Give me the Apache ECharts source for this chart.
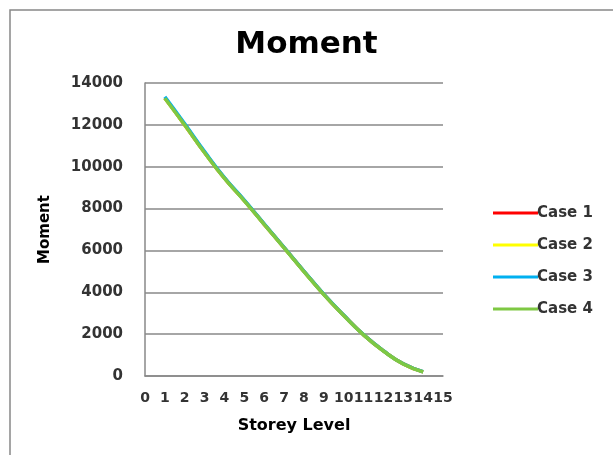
<!DOCTYPE html>
<html>
<head>
<meta charset="utf-8">
<script src="https://cdn.jsdelivr.net/npm/echarts@6/dist/echarts.min.js"></script>
<style>html,body{margin:0;padding:0;background:#fff;}#c{width:613px;height:455px;}</style>
</head>
<body>
<div id="c"></div>
<script>
const storeys = [1,2,3,4,5,6,7,8,9,10,11,12,13,14];
const case1 = [13280,12000,10680,9450,8380,7250,6130,5000,3900,2900,1970,1200,580,200];
const case2 = [13280,12000,10680,9450,8380,7250,6130,5000,3900,2900,1970,1200,580,200];
const case3 = [13340,12050,10720,9480,8400,7270,6140,5010,3910,2910,1975,1205,585,205];
const case4 = [13270,11990,10670,9440,8370,7240,6120,4990,3890,2890,1965,1195,575,195];
const seriesNames = ['Case 1','Case 2','Case 3','Case 4'];
const seriesColors = ['#ff0000','#ffff00','#00b0f0','#7ec843'];
const seriesData = [case1, case2, case3, case4];

const chart = echarts.init(document.getElementById('c'));
const font = 'DejaVu Sans, sans-serif';
chart.setOption({
  animation: false,
  backgroundColor: '#fff',
  graphic: [{
    type: 'rect', shape: {x: 10, y: 10, width: 700, height: 600},
    style: {fill: 'none', stroke: '#888', lineWidth: 1.5}, silent: true, z: -1
  }],
  title: {
    text: 'Moment', left: 'center', top: 24,
    textStyle: {fontFamily: font, fontWeight: 'bold', fontSize: 31, color: '#000'}
  },
  legend: {
    orient: 'vertical', left: 488, top: 200, itemWidth: 45, itemHeight: 3, itemGap: 16,
    icon: 'rect',
    textStyle: {fontFamily: font, fontWeight: 'bold', fontSize: 15, lineHeight: 16, color: '#333', padding: [0,0,0,-6]},
    data: seriesNames
  },
  grid: {left: 145, right: 170, top: 83, bottom: 79},
  xAxis: {
    type: 'value', min: 0, max: 15, interval: 1,
    name: 'Storey Level', nameLocation: 'middle', nameGap: 42,
    nameTextStyle: {fontFamily: font, fontWeight: 'bold', fontSize: 16, color: '#000'},
    axisLine: {show: true, lineStyle: {color: '#888', width: 1.5}},
    axisTick: {show: false},
    axisLabel: {fontFamily: font, fontWeight: 'bold', fontSize: 14, color: '#333', margin: 15,
      showMaxLabel: true, showMinLabel: true, hideOverlap: false},
    splitLine: {show: false}
  },
  yAxis: {
    type: 'value', min: 0, max: 14000, interval: 2000,
    name: 'Moment', nameLocation: 'middle', nameGap: 92, nameRotate: 90,
    nameTextStyle: {fontFamily: font, fontWeight: 'bold', fontSize: 15, color: '#000'},
    axisLine: {show: true, lineStyle: {color: '#888', width: 1.5}},
    axisTick: {show: false},
    axisLabel: {fontFamily: font, fontWeight: 'bold', fontSize: 15, color: '#333', margin: 22,
      formatter: v => String(v)},
    splitLine: {show: true, lineStyle: {color: '#888', width: 1.5}}
  },
  series: seriesNames.map((n, i) => ({
    name: n, type: 'line', smooth: true, showSymbol: false,
    color: seriesColors[i],
    lineStyle: {width: 3.5, color: seriesColors[i]},
    data: storeys.map((s, j) => [s, seriesData[i][j]])
  }))
});
</script>
</body>
</html>
